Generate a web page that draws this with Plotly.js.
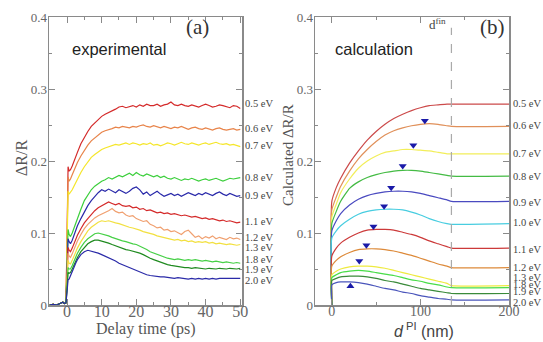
<!DOCTYPE html>
<html>
<head>
<meta charset="utf-8">
<script src="https://cdn.plot.ly/plotly-3.0.1.min.js"></script>
<style>html,body{margin:0;padding:0;background:#fff;}#chart{width:543px;height:342px;}</style>
</head>
<body>
<div id="chart"></div>
<script>
// ---------- Panel (a): experimental ----------
const timePs = [-5,-4,-3,-2,-1.2,-0.8,-0.3, 0,0.3,0.6,1,1.5,2,2.5,
  3,4,5,6,7,8,9,10, 11,12,13,14,15,16,17,18,19,20, 21,22,23,24,25,26,27,28,29,30,
  31,32,33,34,35,36,37,38,39,40, 41,42,43,44,45,46,47,48,49,50];

const expLabels = ['0.5 eV','0.6 eV','0.7 eV','0.8 eV','0.9 eV','1.1 eV','1.2 eV','1.3 eV','1.8 eV','1.9 eV','2.0 eV'];
const expLabelY = [0.280,0.245,0.222,0.177,0.152,0.116,0.094,0.080,0.063,0.049,0.034];
const expColors = ['#d42a2a','#e8844a','#f5e62a','#3ccf3c','#2a2aaa','#d42a2a','#f0a070','#f2e040','#46d046','#1f8a1f','#2a2aa8'];

const exp05 = [0,0.001,0,0.002,0.004,0.002,0.003, 0.09,0.192,0.186,0.188,0.193,0.2,0.206,
  0.212,0.224,0.233,0.241,0.248,0.253,0.258,0.262,
  0.265,0.267,0.27,0.272,0.275,0.276,0.274,0.276,0.277,0.275,
  0.278,0.276,0.279,0.277,0.277,0.279,0.276,0.278,0.279,0.282,
  0.278,0.277,0.279,0.277,0.276,0.278,0.276,0.275,0.277,0.279,
  0.277,0.275,0.276,0.278,0.277,0.275,0.274,0.277,0.276,0.273];
const exp06 = [0,0.001,0,0.002,0.004,0.002,0.003, 0.085,0.178,0.172,0.175,0.181,0.187,0.193,
  0.198,0.207,0.215,0.222,0.228,0.232,0.236,0.24,
  0.242,0.243,0.245,0.247,0.246,0.248,0.247,0.246,0.248,0.247,
  0.249,0.25,0.248,0.247,0.249,0.247,0.246,0.248,0.247,0.245,
  0.247,0.246,0.248,0.246,0.244,0.246,0.247,0.245,0.244,0.246,
  0.245,0.243,0.245,0.246,0.244,0.243,0.244,0.245,0.243,0.244];
const exp07 = [0,0.001,0,0.002,0.004,0.002,0.003, 0.075,0.158,0.154,0.156,0.16,0.165,0.17,
  0.175,0.184,0.192,0.199,0.205,0.209,0.213,0.216,
  0.218,0.22,0.221,0.223,0.222,0.224,0.225,0.223,0.225,0.224,
  0.222,0.224,0.223,0.225,0.222,0.223,0.221,0.223,0.225,0.224,
  0.222,0.224,0.226,0.224,0.223,0.225,0.223,0.222,0.224,0.225,
  0.223,0.224,0.226,0.224,0.223,0.224,0.222,0.223,0.221,0.22];
const exp08 = [0,0.001,0,0.002,0.004,0.002,0.003, 0.05,0.105,0.098,0.095,0.1,0.107,0.114,
  0.121,0.133,0.145,0.153,0.16,0.165,0.169,0.172,
  0.174,0.177,0.175,0.178,0.18,0.178,0.181,0.183,0.18,0.184,
  0.181,0.179,0.182,0.18,0.178,0.18,0.177,0.179,0.176,0.175,
  0.177,0.175,0.173,0.175,0.174,0.176,0.174,0.172,0.174,0.175,
  0.173,0.175,0.176,0.174,0.172,0.174,0.176,0.175,0.176,0.177];
const exp09 = [0,0.001,0,0.002,0.004,0.002,0.003, 0.046,0.092,0.088,0.085,0.09,0.097,0.104,
  0.11,0.12,0.13,0.138,0.145,0.151,0.156,0.16,
  0.158,0.161,0.159,0.156,0.16,0.158,0.155,0.158,0.162,0.164,
  0.16,0.154,0.157,0.152,0.155,0.158,0.154,0.151,0.153,0.155,
  0.152,0.154,0.151,0.153,0.156,0.154,0.152,0.155,0.153,0.156,
  0.154,0.152,0.155,0.157,0.154,0.152,0.155,0.153,0.151,0.152];
const exp11 = [0,0.001,0,0.002,0.004,0.002,0.003, 0.04,0.08,0.076,0.074,0.079,0.085,0.091,
  0.097,0.106,0.114,0.12,0.126,0.131,0.135,0.138,
  0.14,0.143,0.141,0.139,0.141,0.138,0.137,0.138,0.135,0.136,
  0.133,0.134,0.131,0.132,0.13,0.128,0.129,0.127,0.128,0.126,
  0.127,0.125,0.124,0.125,0.123,0.122,0.123,0.121,0.12,0.121,
  0.119,0.12,0.118,0.117,0.118,0.116,0.117,0.115,0.114,0.115];
const exp12 = [0,0.001,0,0.002,0.004,0.002,0.003, 0.035,0.072,0.068,0.066,0.071,0.077,0.083,
  0.089,0.098,0.106,0.112,0.117,0.121,0.124,0.126,
  0.129,0.131,0.134,0.13,0.128,0.129,0.125,0.123,0.124,0.12,
  0.118,0.116,0.117,0.112,0.11,0.107,0.108,0.104,0.105,0.102,
  0.103,0.1,0.098,0.102,0.104,0.099,0.094,0.096,0.092,0.095,
  0.093,0.096,0.092,0.094,0.093,0.091,0.094,0.092,0.093,0.091];
const exp13 = [0,0.001,0,0.002,0.004,0.002,0.003, 0.03,0.062,0.058,0.057,0.062,0.068,0.074,
  0.079,0.088,0.096,0.103,0.108,0.112,0.115,0.117,
  0.116,0.117,0.115,0.114,0.113,0.111,0.11,0.108,0.107,0.106,
  0.104,0.102,0.101,0.099,0.098,0.096,0.095,0.093,0.092,0.091,
  0.09,0.091,0.089,0.09,0.088,0.089,0.087,0.088,0.087,0.088,
  0.086,0.087,0.085,0.086,0.085,0.084,0.085,0.084,0.083,0.084];
const exp18 = [0,0.001,0,0.002,0.004,0.002,0.003, 0.025,0.052,0.05,0.05,0.055,0.061,0.067,
  0.072,0.08,0.087,0.092,0.096,0.099,0.1,0.099,
  0.097,0.096,0.094,0.092,0.091,0.089,0.088,0.086,0.085,0.084,
  0.082,0.079,0.077,0.074,0.072,0.07,0.068,0.066,0.065,0.064,
  0.063,0.064,0.063,0.062,0.063,0.062,0.063,0.062,0.061,0.062,
  0.061,0.06,0.061,0.06,0.059,0.06,0.059,0.058,0.059,0.058];
const exp19 = [0,0.001,0,0.002,0.004,0.002,0.003, 0.022,0.045,0.044,0.045,0.05,0.056,0.061,
  0.066,0.074,0.08,0.085,0.088,0.09,0.09,0.089,
  0.087,0.086,0.084,0.082,0.08,0.079,0.077,0.076,0.075,0.074,
  0.072,0.07,0.067,0.065,0.063,0.061,0.059,0.057,0.056,0.055,
  0.054,0.053,0.053,0.052,0.052,0.051,0.052,0.051,0.051,0.05,
  0.051,0.05,0.05,0.051,0.05,0.05,0.051,0.05,0.05,0.051];
const exp20 = [0,0.001,0,0.002,0.004,0.002,0.003, 0.018,0.035,0.036,0.04,0.046,0.052,0.058,
  0.063,0.07,0.074,0.076,0.075,0.074,0.072,0.07,
  0.068,0.066,0.063,0.061,0.058,0.056,0.054,0.051,0.049,0.047,
  0.045,0.043,0.042,0.041,0.04,0.04,0.039,0.039,0.038,0.038,
  0.037,0.038,0.037,0.037,0.036,0.037,0.036,0.037,0.036,0.037,
  0.036,0.037,0.036,0.037,0.037,0.036,0.037,0.037,0.036,0.037];
const expSeries = [exp05,exp06,exp07,exp08,exp09,exp11,exp12,exp13,exp18,exp19,exp20];

// ---------- Panel (b): calculation ----------
const dNm = [0,0,5,10,20,30,40,50,60,70,80,90,100,110,120,130,135,200];
const dFin = 135;
const calcLabels = ['0.5 eV','0.6 eV','0.7 eV','0.8 eV','0.9 eV','1.0 eV','1.1 eV','1.2 eV','1.3 eV','1.8 eV','1.9 eV','2.0 eV'];
const calcLabelY = [0.280,0.249,0.210,0.178,0.143,0.115,0.077,0.052,0.038,0.028,0.019,0.004];
const calcColors = ['#cc4a4a','#e0905a','#f2ee5a','#44bb44','#4a4ac0','#48cde0','#cc3a3a','#dd8a3a','#eeea40','#48dd48','#3a8a3a','#4a55bb'];

const calc05 = [0,0.144,0.163,0.176,0.197,0.214,0.229,0.241,0.251,0.259,0.265,0.27,0.274,0.277,0.278,0.279,0.279,0.279];
const calc06 = [0,0.132,0.15,0.165,0.186,0.203,0.216,0.227,0.236,0.242,0.246,0.249,0.251,0.252,0.251,0.249,0.248,0.248];
const calc07 = [0,0.122,0.14,0.156,0.175,0.19,0.2,0.207,0.212,0.214,0.216,0.216,0.215,0.214,0.212,0.21,0.21,0.21];
const calc08 = [0,0.113,0.13,0.144,0.162,0.171,0.177,0.181,0.184,0.186,0.187,0.187,0.186,0.184,0.182,0.18,0.179,0.179];
const calc09 = [0,0.103,0.117,0.127,0.139,0.147,0.152,0.155,0.157,0.158,0.158,0.157,0.155,0.152,0.149,0.146,0.144,0.144];
const calc10 = [0,0.093,0.103,0.11,0.119,0.126,0.13,0.132,0.133,0.133,0.132,0.129,0.125,0.12,0.116,0.113,0.112,0.113];
const calc11 = [0,0.068,0.079,0.086,0.094,0.1,0.104,0.105,0.105,0.104,0.101,0.098,0.094,0.089,0.085,0.081,0.079,0.079];
const calc12 = [0,0.054,0.062,0.067,0.073,0.077,0.078,0.078,0.077,0.075,0.072,0.069,0.065,0.061,0.057,0.054,0.052,0.052];
const calc13 = [0,0.042,0.047,0.05,0.053,0.054,0.054,0.053,0.051,0.048,0.045,0.042,0.039,0.036,0.033,0.03,0.027,0.027];
const calc18 = [0,0.038,0.042,0.045,0.047,0.048,0.047,0.045,0.043,0.041,0.038,0.035,0.033,0.03,0.028,0.025,0.024,0.024];
const calc19 = [0,0.034,0.037,0.039,0.04,0.04,0.039,0.037,0.034,0.032,0.029,0.026,0.023,0.021,0.019,0.017,0.016,0.016];
const calc20 = [0,0.028,0.031,0.032,0.032,0.031,0.029,0.026,0.023,0.021,0.018,0.016,0.013,0.011,0.009,0.008,0.007,0.007];
const calcSeries = [calc05,calc06,calc07,calc08,calc09,calc10,calc11,calc12,calc13,calc18,calc19,calc20];

// peak markers
const peakD = [105,92,80,67,59,47,39,31];
const peakV = [0.256,0.222,0.193,0.163,0.137,0.109,0.083,0.061];
const upD = [21];
const upV = [0.026];

const serif = 'Liberation Serif, Times New Roman, serif';
const sans = 'Liberation Sans, Arial, sans-serif';

const traces = [];
expSeries.forEach((s, i) => {
  traces.push({x: timePs, y: s, type: 'scatter', mode: 'lines', xaxis: 'x', yaxis: 'y',
    line: {color: expColors[i], width: 1.2}, hoverinfo: 'skip', showlegend: false});
});
calcSeries.forEach((s, i) => {
  traces.push({x: dNm, y: s, type: 'scatter', mode: 'lines', xaxis: 'x2', yaxis: 'y2',
    line: {color: calcColors[i], width: 1.2, shape: 'spline', smoothing: 0.5}, hoverinfo: 'skip', showlegend: false});
});
traces.push({x: peakD, y: peakV, type: 'scatter', mode: 'markers', xaxis: 'x2', yaxis: 'y2',
  marker: {symbol: 'triangle-down', size: 7, color: '#1a1aa8'}, showlegend: false, hoverinfo: 'skip'});
traces.push({x: upD, y: upV, type: 'scatter', mode: 'markers', xaxis: 'x2', yaxis: 'y2',
  marker: {symbol: 'triangle-up', size: 7, color: '#1a1aa8'}, showlegend: false, hoverinfo: 'skip'});

const axCommon = {
  showline: true, linecolor: '#8a8a8a', linewidth: 1.5, mirror: 'allticks',
  ticks: 'inside', ticklen: 6, tickcolor: '#8a8a8a', tickwidth: 1,
  showgrid: false, zeroline: false, automargin: false
};

const annotations = [];
expLabels.forEach((t, i) => {
  annotations.push({text: t, xref: 'x domain', yref: 'y', x: 1.005, y: expLabelY[i], xanchor: 'left', yanchor: 'middle',
    showarrow: false, font: {family: serif, size: 10.5, color: '#444'}});
});
calcLabels.forEach((t, i) => {
  annotations.push({text: t, xref: 'x2 domain', yref: 'y2', x: 1.01, y: calcLabelY[i], xanchor: 'left', yanchor: 'middle',
    showarrow: false, font: {family: serif, size: 10.5, color: '#444'}});
});
annotations.push(
  {text: 'ΔR/R', xref: 'paper', yref: 'paper', x: 21/543, y: 1-158/342, textangle: -90, showarrow: false,
    font: {family: serif, size: 16, color: '#555'}, xanchor: 'center', yanchor: 'middle'},
  {text: 'Delay time (ps)', xref: 'paper', yref: 'paper', x: 146/543, y: 1-329/342, showarrow: false,
    font: {family: serif, size: 16, color: '#555'}, xanchor: 'center', yanchor: 'middle'},
  {text: 'Calculated ΔR/R', xref: 'paper', yref: 'paper', x: 288/543, y: 1-155/342, textangle: -90, showarrow: false,
    font: {family: serif, size: 15, color: '#555'}, xanchor: 'center', yanchor: 'middle'},
  {text: '<i>d</i><sup> PI</sup> (nm)', xref: 'paper', yref: 'paper', x: 424/543, y: 1-330/342, showarrow: false,
    font: {family: sans, size: 16, color: '#444'}, xanchor: 'center', yanchor: 'middle'},
  {text: '(a)', xref: 'paper', yref: 'paper', x: 197/543, y: 1-27/342, showarrow: false,
    font: {family: serif, size: 21, color: '#333'}, xanchor: 'center', yanchor: 'middle'},
  {text: '(b)', xref: 'paper', yref: 'paper', x: 492/543, y: 1-27/342, showarrow: false,
    font: {family: serif, size: 21, color: '#333'}, xanchor: 'center', yanchor: 'middle'},
  {text: 'experimental', xref: 'paper', yref: 'paper', x: 119/543, y: 1-49/342, showarrow: false,
    font: {family: sans, size: 16.5, color: '#222'}, xanchor: 'center', yanchor: 'middle'},
  {text: 'calculation', xref: 'paper', yref: 'paper', x: 374/543, y: 1-49/342, showarrow: false,
    font: {family: sans, size: 16.5, color: '#222'}, xanchor: 'center', yanchor: 'middle'},
  {text: 'd<sup>fin</sup>', xref: 'paper', yref: 'paper', x: 437/543, y: 1-24/342, showarrow: false,
    font: {family: serif, size: 13, color: '#444'}, xanchor: 'center', yanchor: 'middle'}
);

const layout = {
  width: 543, height: 342,
  margin: {l: 0, r: 0, t: 0, b: 0},
  paper_bgcolor: '#fff', plot_bgcolor: '#fff',
  showlegend: false,
  xaxis: Object.assign({}, axCommon, {domain: [49/543, 242/543], range: [-5.2, 50.5], anchor: 'y',
    tickmode: 'linear', tick0: 0, dtick: 10, ticklabelstandoff: -9,
    minor: {tickmode: 'linear', tick0: 0, dtick: 5, ticks: 'inside', ticklen: 3, tickcolor: '#8a8a8a'},
    tickfont: {family: serif, size: 16, color: '#666'}}),
  yaxis: Object.assign({}, axCommon, {domain: [1-305/342, 1-17/342], range: [0, 0.4], anchor: 'x',
    tickmode: 'linear', tick0: 0, dtick: 0.1, ticklabelstandoff: -2,
    minor: {tickmode: 'linear', tick0: 0, dtick: 0.05, ticks: 'inside', ticklen: 3, tickcolor: '#8a8a8a'},
    tickfont: {family: serif, size: 13, color: '#666'}}),
  xaxis2: Object.assign({}, axCommon, {domain: [315/543, 509/543], range: [-19, 200], anchor: 'y2',
    tickmode: 'linear', tick0: 0, dtick: 100, ticklabelstandoff: -7,
    minor: {tickmode: 'linear', tick0: 0, dtick: 50, ticks: 'inside', ticklen: 3, tickcolor: '#8a8a8a'},
    tickfont: {family: serif, size: 14, color: '#666'}}),
  yaxis2: Object.assign({}, axCommon, {domain: [1-305/342, 1-17/342], range: [0, 0.4], anchor: 'x2',
    tickmode: 'linear', tick0: 0, dtick: 0.1, ticklabelstandoff: -2,
    minor: {tickmode: 'linear', tick0: 0, dtick: 0.05, ticks: 'inside', ticklen: 3, tickcolor: '#8a8a8a'},
    tickfont: {family: serif, size: 13, color: '#666'}}),
  shapes: [
    {type: 'line', xref: 'x2', yref: 'y2', x0: dFin, x1: dFin, y0: 0, y1: 0.385,
      line: {color: '#aaaaaa', width: 1.2, dash: 'dash'}}
  ],
  annotations: annotations
};

Plotly.newPlot('chart', traces, layout, {staticPlot: true, displayModeBar: false});
</script>
</body>
</html>
